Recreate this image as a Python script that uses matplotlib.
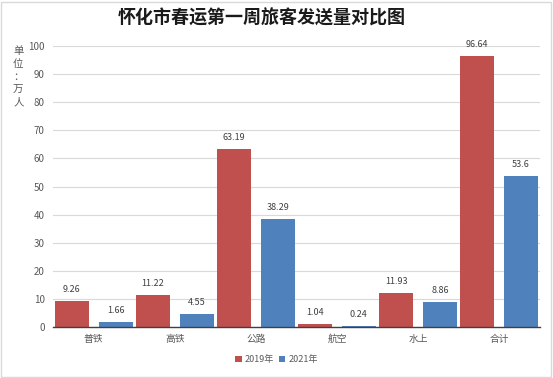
import numpy as np
import matplotlib.pyplot as plt
from matplotlib.patches import Rectangle

plt.rcParams['font.family'] = ['Noto Sans CJK SC', 'DejaVu Sans']

# 数据
categories = ['普铁', '高铁', '公路', '航空', '水上', '合计']
values_2019 = [9.26, 11.22, 63.19, 1.04, 11.93, 96.64]
values_2021 = [1.66, 4.55, 38.29, 0.24, 8.86, 53.6]
labels_2019 = ['9.26', '11.22', '63.19', '1.04', '11.93', '96.64']
labels_2021 = ['1.66', '4.55', '38.29', '0.24', '8.86', '53.6']

red = '#C0504D'
blue = '#4F81BD'

fig = plt.figure(figsize=(5.53, 3.78), dpi=100)
ax = fig.add_axes([0.096, 0.135, 0.88, 0.743])

x = np.arange(len(categories))
w = 0.42
b1 = ax.bar(x - 0.27, values_2019, w, color=red, label='2019年')
b2 = ax.bar(x + 0.27, values_2021, w, color=blue, label='2021年')

for bars, labs in ((b1, labels_2019), (b2, labels_2021)):
    for rect, lab in zip(bars, labs):
        ax.text(rect.get_x() + rect.get_width() / 2, rect.get_height() + 2.5, lab,
                ha='center', va='bottom', fontsize=6.5, color='#404040')

ax.set_xlim(-0.5, len(categories) - 0.5)
ax.set_ylim(0, 100)
ax.set_yticks(np.arange(0, 101, 10))
ax.set_xticks(x)
ax.set_xticklabels(categories)
ax.tick_params(axis='both', length=0, labelsize=7, colors='#595959')
ax.tick_params(axis='y', pad=6)
ax.tick_params(axis='x', pad=5)
ax.grid(axis='y', color='#D9D9D9', linewidth=0.8)
ax.set_axisbelow(True)
for s in ['top', 'right', 'left']:
    ax.spines[s].set_visible(False)
ax.spines['bottom'].set_color('#404040')
ax.spines['bottom'].set_linewidth(1.0)

fig.text(0.473, 0.953, '怀化市春运第一周旅客发送量对比图', ha='center', va='center',
         fontsize=13, fontweight='heavy', color='#1a1a1a')
fig.text(0.033, 0.797, '单\n位\n：\n万\n人', ha='center', va='center',
         fontsize=7.5, color='#595959', linespacing=1.35)

fig.legend(loc='center', bbox_to_anchor=(0.5, 0.048), ncol=2, frameon=False,
           fontsize=6.5, handlelength=0.7, handleheight=0.7, handletextpad=0.3,
           columnspacing=0.6, labelcolor='#595959')

fig.patches.append(Rectangle((0.002, 0.003), 0.995, 0.993, transform=fig.transFigure,
                             fill=False, edgecolor='#D9D9D9', linewidth=1))

fig.savefig('out.png', dpi=100)
